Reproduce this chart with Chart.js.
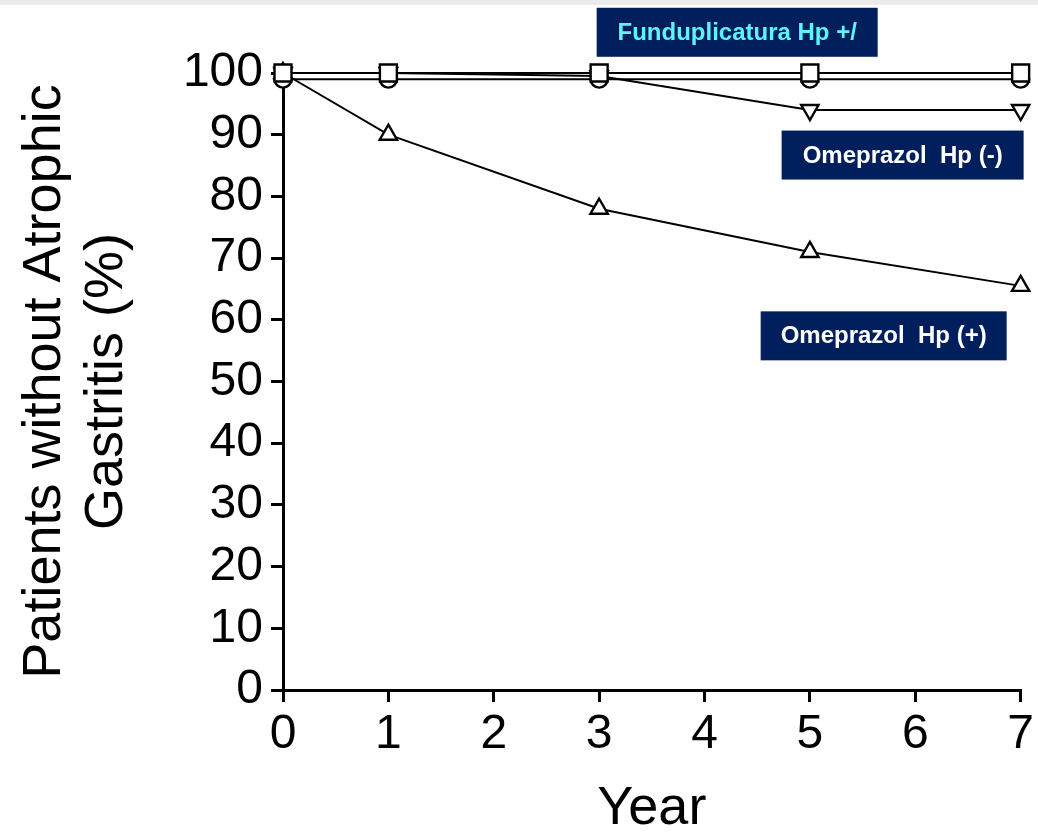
<!DOCTYPE html>
<html lang="en">
<head>
<meta charset="UTF-8" />
<title>Patients without Atrophic Gastritis</title>
<script src="https://cdn.jsdelivr.net/npm/chart.js@4.4.1/dist/chart.umd.min.js"></script>
<style>
  html, body { margin: 0; padding: 0; background: #fff; }
  #wrap { width: 1038px; height: 836px; }
</style>
</head>
<body>
<div id="wrap"><canvas id="myChart" width="1038" height="836"></canvas></div>
<script>
const years = [0, 1, 3, 5, 7];
const fundoValues = [100, 100, 100, 100, 100];
const circleValues = [99, 99, 99, 99, 99];
const omeNegValues = [100, 100, 99.5, 94, 94];
const omePosValues = [100, 90, 78, 71, 65.5];
const xTicks = [0, 1, 2, 3, 4, 5, 6, 7];
const yTicks = [0, 10, 20, 30, 40, 50, 60, 70, 80, 90, 100];

const FONT = "'Liberation Sans', Arial, Helvetica, sans-serif";

// label boxes, centred on data coordinates
const labelBoxes = [
  { text: "Funduplicatura Hp +/", x: 4.31, y: 106.6, w: 281, h: 49, color: "#5ef4fb" },
  { text: "Omeprazol  Hp (-)", x: 5.88, y: 86.7, w: 242, h: 49, color: "#ffffff" },
  { text: "Omeprazol  Hp (+)", x: 5.70, y: 57.4, w: 246, h: 49, color: "#ffffff" },
];

const toPoints = (vals) => years.map((x, i) => ({ x, y: vals[i] }));

const pageBg = {
  id: "pageBg",
  beforeDraw(chart) {
    const c = chart.ctx;
    c.save();
    c.fillStyle = "#fff";
    c.fillRect(0, 0, chart.width, chart.height);
    c.fillStyle = "#ebebeb";
    c.fillRect(0, 0, chart.width, 5);
    c.restore();
  },
};

const boxLabels = {
  id: "boxLabels",
  afterDraw(chart) {
    const c = chart.ctx;
    const xs = chart.scales.x, ys = chart.scales.y;
    c.save();
    labelBoxes.forEach((b) => {
      const cx = xs.getPixelForValue(b.x);
      const cy = ys.getPixelForValue(b.y);
      c.fillStyle = "#001f5c";
      c.fillRect(cx - b.w / 2, cy - b.h / 2, b.w, b.h);
      c.fillStyle = b.color;
      c.font = "bold 24px " + FONT;
      c.textAlign = "center";
      c.textBaseline = "middle";
      c.fillText(b.text, cx, cy + 1);
    });
    c.restore();
  },
};

const common = {
  showLine: true,
  borderColor: "#000",
  borderWidth: 2,
  pointBackgroundColor: "#fff",
  pointBorderColor: "#000",
  pointBorderWidth: 2.4,
  clip: false,
};

new Chart(document.getElementById("myChart"), {
  type: "scatter",
  data: {
    datasets: [
      { ...common, label: "Omeprazol Hp (+)", data: toPoints(omePosValues), pointStyle: "triangle", pointRadius: 10, order: 4 },
      { ...common, label: "Omeprazol Hp (-)", data: toPoints(omeNegValues), pointStyle: "triangle", pointRotation: 180, pointRadius: 10, order: 3 },
      { ...common, label: "Hp (-)", data: toPoints(circleValues), pointStyle: "circle", pointRadius: 8.5, order: 2 },
      { ...common, label: "Funduplicatura Hp +/", data: toPoints(fundoValues), pointStyle: "rect", pointRadius: 12, order: 1 },
    ],
  },
  options: {
    responsive: false,
    animation: false,
    layout: { padding: { top: 73, right: 16, left: 0, bottom: 0 } },
    plugins: { legend: { display: false }, tooltip: { enabled: false } },
    scales: {
      x: {
        type: "linear",
        min: 0,
        max: 7,
        afterBuildTicks: (s) => { s.ticks = xTicks.map((v) => ({ value: v })); },
        afterFit: (s) => { s.height = 146; },
        ticks: { color: "#000", font: { family: FONT, size: 48 }, padding: 4 },
        grid: { drawOnChartArea: false, drawTicks: true, tickLength: 12, color: "#000", lineWidth: 3 },
        border: { color: "#000", width: 3 },
        title: {
          display: true,
          text: "Year",
          color: "#000",
          font: { family: FONT, size: 54, lineHeight: 1.0 },
          padding: { top: 0, bottom: 0 },
        },
      },
      y: {
        min: 0,
        max: 100,
        afterBuildTicks: (s) => { s.ticks = yTicks.map((v) => ({ value: v })); },
        afterFit: (s) => { s.width = 283; },
        ticks: { color: "#000", font: { family: FONT, size: 48 }, padding: 8 },
        grid: { drawOnChartArea: false, drawTicks: true, tickLength: 12, color: "#000", lineWidth: 3 },
        border: { color: "#000", width: 3 },
        title: {
          display: true,
          text: ["Patients without Atrophic", "Gastritis (%)"],
          color: "#000",
          font: { family: FONT, size: 54, lineHeight: 1.15 },
          padding: { top: 14, bottom: 0 },
        },
      },
    },
  },
  plugins: [pageBg, boxLabels],
});
</script>
</body>
</html>
